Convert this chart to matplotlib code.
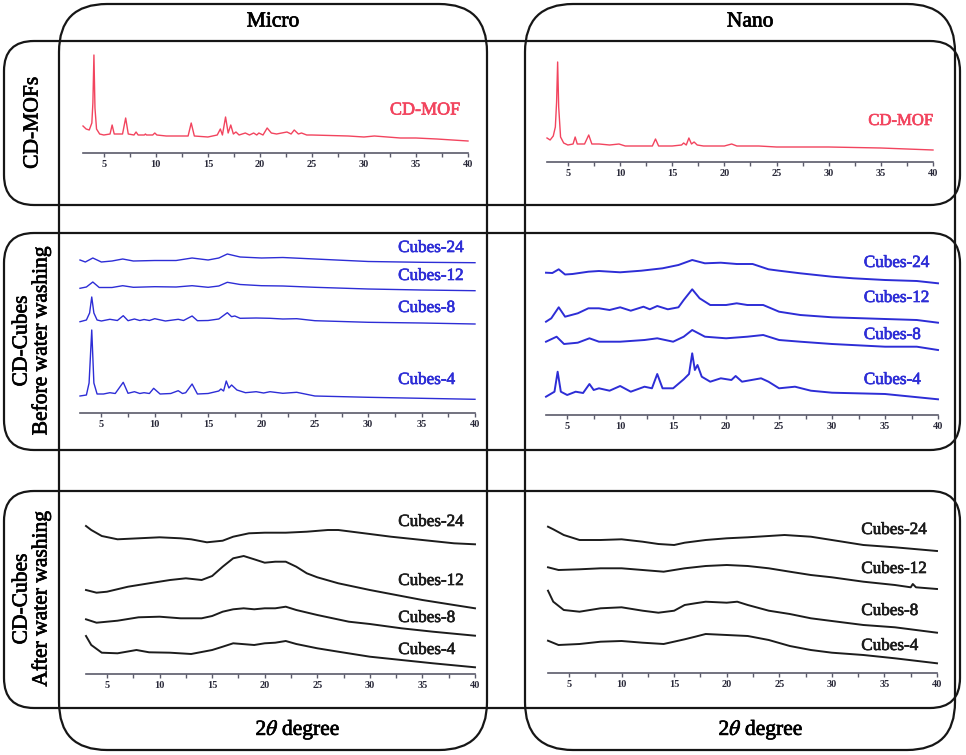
import matplotlib
matplotlib.use('Agg')
import matplotlib.pyplot as plt
import matplotlib.patheffects as pe
from matplotlib.patches import FancyBboxPatch
from matplotlib.ticker import MultipleLocator

plt.rcParams['font.family'] = ['Liberation Serif', 'DejaVu Serif']
plt.rcParams['mathtext.fontset'] = 'stix'

# XRD patterns: (2theta, intensity a.u.)
micro_mof = [(3.0, 27), (3.3, 24), (3.6, 23), (3.85, 30), (3.95, 50), (4.05, 98), (4.15, 45),
             (4.3, 24), (4.6, 19), (5.0, 18), (5.6, 19), (5.8, 28), (6.0, 19), (6.8, 19),
             (7.1, 35), (7.35, 19), (7.9, 18), (8.1, 21), (8.3, 18), (8.9, 18), (9.0, 19),
             (9.1, 18), (9.7, 18), (9.9, 20), (10.1, 18), (11.0, 17), (12.0, 17), (13.1, 17),
             (13.4, 30), (13.7, 17), (15.0, 16), (15.9, 18), (16.2, 24), (16.4, 18), (16.7, 36),
             (16.95, 20), (17.2, 28), (17.45, 19), (17.7, 21), (18.0, 18), (18.6, 20), (19.0, 18),
             (19.4, 20), (19.7, 18), (19.9, 20), (20.3, 18), (20.7, 25), (21.1, 20), (21.6, 19),
             (22.6, 21), (23.0, 19), (23.3, 23), (23.7, 19), (24.0, 20), (24.5, 18), (25, 18),
             (28.5, 17), (30, 16), (31, 17), (33.5, 15), (35, 15), (37, 14), (40, 12)]
nano_mof = [(3.0, 24), (3.3, 22), (3.6, 26), (3.8, 35), (3.92, 60), (4.02, 100), (4.12, 55),
            (4.3, 25), (4.6, 19), (5.0, 17), (5.5, 18), (5.7, 25), (5.9, 18), (6.6, 18),
            (7.0, 27), (7.3, 18), (8.0, 18), (9.0, 17), (9.9, 18), (10.5, 16), (12, 16),
            (13.1, 16), (13.4, 23), (13.7, 16), (15, 16), (15.9, 17), (16.1, 19), (16.35, 17),
            (16.6, 24), (16.85, 18), (17.1, 20), (17.4, 17), (18, 16), (20, 16), (20.7, 18),
            (21.2, 16), (23.3, 16), (25, 15), (30, 15), (35, 14), (40, 12)]

micro_before_24 = [(3, 153), (3.5, 151), (4.2, 155), (5, 151), (6, 152), (7, 154), (8, 152),
                   (10, 152.5), (12, 152.5), (13.5, 155), (15, 153), (16, 155), (16.8, 159),
                   (18, 156), (20, 155), (22, 155.5), (25, 154), (30, 151.5), (35, 150.7), (40, 150.3)]
micro_before_12 = [(3, 124.7), (3.6, 126), (4.2, 131), (4.8, 125.5), (6, 125.5), (7, 127.3),
                   (8, 125.7), (10, 126.3), (12, 126), (13.5, 127.3), (15, 125.7), (16, 127),
                   (16.8, 130.7), (18, 128.5), (20, 127.3), (22, 127), (25, 125.7), (30, 124),
                   (35, 123), (40, 122.3)]
micro_before_8 = [(3, 91.3), (3.6, 93), (3.9, 100), (4.1, 116), (4.3, 100), (4.6, 93), (5, 92),
                  (5.8, 93.7), (6.5, 92.5), (7.05, 97.3), (7.5, 92.3), (8.1, 94), (8.6, 92.5),
                  (9, 93.5), (9.5, 92.5), (10, 94.3), (11, 92), (12.2, 93.7), (12.7, 92.5),
                  (13.5, 97), (14, 92.3), (15, 92.5), (16, 94), (16.8, 100.3), (17.2, 96.3),
                  (17.5, 97), (18, 94.7), (19.5, 95), (20.8, 94.7), (22, 94), (23.3, 94.3),
                  (25, 92.3), (30, 90.7), (35, 90), (40, 89)]
micro_before_4 = [(3, 17), (3.6, 18), (3.85, 30), (4.1, 83), (4.3, 30), (4.6, 19), (5.2, 19),
                  (5.8, 20.3), (6.3, 19.5), (7.05, 30.7), (7.5, 19.7), (8.1, 21.3), (8.6, 19.5),
                  (9, 20.3), (9.5, 19.5), (9.9, 24.7), (10.5, 19), (11.5, 19.5), (12.2, 22.3),
                  (12.6, 19.5), (12.9, 20.3), (13.5, 29), (14, 19), (15, 19.5), (16, 22),
                  (16.2, 24), (16.45, 22), (16.7, 32), (16.95, 25), (17.2, 28), (17.7, 23),
                  (18.5, 20.3), (19.5, 21.3), (20.2, 20), (20.8, 21.3), (22, 19.7), (23.3, 20.7),
                  (25, 17), (30, 15.7), (35, 14.7), (40, 13.7)]

nano_before_24 = [(3, 142.3), (3.6, 142), (4.2, 145.7), (4.8, 140.5), (5.5, 141), (7, 143.3),
                  (8, 144), (10, 142.7), (12, 144.3), (14, 146.7), (15.5, 150), (16.8, 155),
                  (18, 151.7), (19.5, 152.3), (21, 151), (22.5, 151), (24, 145.7), (25, 144.3),
                  (27, 141.7), (30, 138.3), (32, 136.7), (35, 135), (38, 134), (40, 131.7)]
nano_before_12 = [(3, 93.3), (3.5, 96.7), (4.2, 107.7), (4.8, 98.3), (6, 101.7), (7, 106.7),
                  (8, 106.7), (9, 105), (10, 107.7), (11, 104.3), (12.2, 108.3), (12.8, 105.7),
                  (13.5, 109), (14.5, 105.7), (15.5, 107.7), (16, 115), (16.8, 125.7),
                  (17.5, 116.7), (18.5, 110), (20, 110), (21, 111.7), (22, 110), (23.5, 110),
                  (25, 103.3), (27, 100), (30, 97.7), (35, 96), (38, 95), (40, 92.3)]
nano_before_8 = [(3, 73.3), (4.0, 78.3), (4.7, 71), (6, 72.3), (7.1, 76.7), (8, 73.3), (10, 73.3),
                 (12.3, 75), (13.5, 76.7), (15, 73.3), (16, 78.3), (16.8, 85), (18, 78.3),
                 (20, 76.7), (22, 78.3), (23.5, 80), (25, 75), (27, 73.3), (30, 71), (35, 68.3),
                 (38, 68.3), (40, 65)]
nano_before_4 = [(3, 18.3), (3.8, 23.3), (4.1, 43.3), (4.4, 23.3), (5, 20), (5.8, 23.3), (6.5, 22),
                 (7.1, 31), (7.5, 25), (8, 26.7), (9, 24.3), (10, 29), (11, 23.3), (12.3, 28.3),
                 (13, 26.7), (13.5, 41), (14, 26.7), (15, 26.7), (16, 35.7), (16.5, 41),
                 (16.8, 61.7), (17.05, 45), (17.3, 50), (17.7, 38.3), (18.5, 33.3), (19.5, 36.7),
                 (20.5, 35), (20.9, 39), (21.5, 33.3), (23.3, 36.7), (24, 33.3), (25, 26.7),
                 (26.5, 28.3), (28, 24.3), (30, 22.3), (35, 21), (40, 15.7)]

micro_after_24 = [(3, 148), (3.5, 144), (4.5, 138), (6, 134.7), (8, 135.7), (10, 136.7), (12, 135.7),
                  (13, 134.7), (14.5, 131.7), (16, 133.3), (17, 137.3), (18.5, 140.7), (20, 141.3),
                  (22, 141.3), (24, 142.3), (26, 144), (27, 144), (30, 140), (32, 137.3), (35, 134),
                  (38, 130.7), (40, 129.7)]
micro_after_12 = [(3, 84), (4, 81.3), (5, 82.3), (7, 87.3), (9, 90.7), (11, 94), (12.5, 95.7),
                  (14, 94), (15, 98), (16, 107.3), (17, 115.7), (18, 118), (19, 114.7), (20, 111.3),
                  (21, 112.3), (22, 112.3), (23, 107.3), (24, 100.7), (25, 96.7), (27, 90.7),
                  (30, 84), (33, 78), (35, 74), (38, 69), (40, 65.7)]
micro_after_8 = [(3, 54.7), (4, 51.3), (6, 53.3), (8, 56.7), (10, 57.3), (12, 55.7), (14, 55.7),
                 (15, 58), (16, 62.3), (17, 64.7), (18, 65.7), (19, 64.7), (20, 65.7), (21, 65.7),
                 (22, 67.3), (23, 64), (25, 59), (28, 52.3), (30, 50), (33, 45.7), (36, 42.3), (40, 38.3)]
micro_after_4 = [(3, 38), (3.5, 29), (4.5, 21.3), (6, 20.7), (7.8, 24), (9, 21.7), (11, 21.3),
                 (13, 20), (15, 24), (16, 27.3), (17, 30.7), (19, 29), (20, 30.7), (21, 31.3),
                 (22, 33), (23, 30), (25, 25.7), (27, 22.3), (30, 17.3), (33, 14), (36, 10.7), (40, 6.7)]

nano_after_24 = [(3, 146.3), (3.5, 143.7), (4.5, 138), (6, 133), (8, 133), (10, 133.7), (12, 131.3),
                 (13.5, 129), (15, 128), (16, 130.3), (18, 133), (20, 134.7), (22, 135.7), (24, 137),
                 (25.5, 138), (28, 136.3), (30, 133), (33, 128), (36, 125.7), (40, 122)]
nano_after_12 = [(3, 105.7), (4, 103), (6, 103.7), (8, 104.7), (10, 104.7), (12, 103), (14, 101.3),
                 (16, 104.7), (18, 107), (20, 108), (22, 107), (24, 104.7), (26, 101.3), (28, 98),
                 (30, 95.7), (33, 91.3), (36, 88), (37.5, 85.7), (37.7, 89), (38, 85.7), (40, 84)]
nano_after_8 = [(3, 82.3), (3.5, 71.3), (4.5, 63), (6, 61.3), (8, 64.7), (10, 65.7), (12, 62.3),
                (13.5, 60.3), (15, 62.3), (16, 68), (17, 69.7), (18, 71.3), (20, 70.3), (21, 71.3),
                (22, 68), (24, 62.3), (26, 59), (28, 54.7), (30, 52), (33, 48), (36, 45.7), (40, 40.3)]
nano_after_4 = [(3, 32.3), (4, 28), (6, 29), (8, 31.3), (10, 32), (12, 30.3), (14, 29), (16, 33.7),
                (17, 36.3), (18, 39), (20, 38), (22, 37), (24, 33), (26, 27), (28, 23), (30, 20.3),
                (33, 18), (36, 14.7), (40, 9.7)]

cube_names = ['Cubes-24', 'Cubes-12', 'Cubes-8', 'Cubes-4']
col_titles = ['Micro', 'Nano']
row_titles = ['CD-MOFs', 'CD-Cubes\nBefore water washing', 'CD-Cubes\nAfter water washing']

RED = '#f2445e'
BLUE = '#2d2dd6'
BLACK = '#1c1c1c'
W, H = 966, 755

fig = plt.figure(figsize=(W / 100, H / 100), dpi=100)

# overlay for boxes and big labels, in pixel units
bg = fig.add_axes([0, 0, 1, 1])
bg.set_xlim(0, W)
bg.set_ylim(H, 0)
bg.axis('off')


def heavy(color):
    # the scanned text looks a bit heavier than plain Times
    return [pe.withStroke(linewidth=0.5, foreground=color)]


def rbox(x0, y0, x1, y1, r):
    bg.add_patch(FancyBboxPatch((x0, y0), x1 - x0, y1 - y0,
                                boxstyle=f'round,pad=0,rounding_size={r}',
                                fill=False, ec='#161616', lw=1.6))


rbox(59, 4, 487, 750, 48)
rbox(525, 4, 955, 750, 48)
rbox(4, 41, 960, 205, 30)
rbox(4, 233, 960, 450, 30)
rbox(4, 491, 960, 708, 30)

big = dict(fontsize=15.5, ha='center', va='center', path_effects=heavy('black'))
bg.text(273, 22, col_titles[0], **big)
bg.text(750, 22, col_titles[1], **big)
bg.text(33, 123, row_titles[0], rotation=90, **big)
bg.text(32, 341, row_titles[1], rotation=90, multialignment='center', linespacing=1.0, **big)
bg.text(32, 599, row_titles[2], rotation=90, multialignment='center', linespacing=1.0, **big)
bg.text(298, 730, r'2$\theta$ degree', **big)
bg.text(761, 730, r'2$\theta$ degree', **big)


def panel(x3, x40, base, ht):
    ax = fig.add_axes([x3 / W, 1 - base / H, (x40 - x3) / W, ht / H])
    ax.patch.set_alpha(0)
    ax.set_xlim(3, 40)
    ax.set_ylim(0, ht)
    for s in ['top', 'left', 'right']:
        ax.spines[s].set_visible(False)
    ax.spines['bottom'].set_color('#5a5a6a')
    ax.spines['bottom'].set_linewidth(1.2)
    ax.set_yticks([])
    ax.xaxis.set_major_locator(MultipleLocator(5))
    ax.xaxis.set_minor_locator(MultipleLocator(2.5))
    ax.tick_params(axis='x', which='both', direction='out', length=3, width=1,
                   color='#5a5a6a', labelsize=7.5, pad=2, labelcolor='#2a2a3a')
    for lbl in ax.get_xticklabels():
        lbl.set_fontweight('bold')
    return ax


def draw(ax, pts, color, lw):
    xs = [p[0] for p in pts]
    ys = [p[1] for p in pts]
    ax.plot(xs, ys, color=color, lw=lw, clip_on=False)


def label(ax, x, y, s, color, size):
    ax.text(x, y, s, color=color, fontsize=size, va='center', path_effects=heavy(color))


# CD-MOFs row
ax = panel(83, 468, 153, 110)
draw(ax, micro_mof, RED, 1.0)
label(ax, 32.5, 43, 'CD-MOF', RED, 13)

ax = panel(547, 933, 162, 110)
draw(ax, nano_mof, RED, 1.0)
label(ax, 33.8, 41, 'CD-MOF', RED, 12)

# before washing row
ax = panel(80, 475, 413, 180)
for pts in [micro_before_24, micro_before_12, micro_before_8, micro_before_4]:
    draw(ax, pts, BLUE, 1.0)
for name, yl in zip(cube_names, [165, 137, 105, 33]):
    label(ax, 32.8, yl, name, BLUE, 12.3)

ax = panel(546, 938, 415, 180)
for pts in [nano_before_24, nano_before_12, nano_before_8, nano_before_4]:
    draw(ax, pts, BLUE, 1.4)
for name, yl in zip(cube_names, [152, 117, 80, 35]):
    label(ax, 33.0, yl, name, BLUE, 12.3)

# after washing row
ax = panel(86, 475, 674, 160)
for pts in [micro_after_24, micro_after_12, micro_after_8, micro_after_4]:
    draw(ax, pts, BLACK, 1.4)
for name, yl in zip(cube_names, [152, 93, 56, 24]):
    label(ax, 32.7, yl, name, BLACK, 12.3)

ax = panel(548, 937, 673, 160)
for pts in [nano_after_24, nano_after_12, nano_after_8, nano_after_4]:
    draw(ax, pts, BLACK, 1.4)
for name, yl in zip(cube_names, [143, 104, 62, 27]):
    label(ax, 32.8, yl, name, BLACK, 12.3)

fig.savefig('out.png', dpi=100)
